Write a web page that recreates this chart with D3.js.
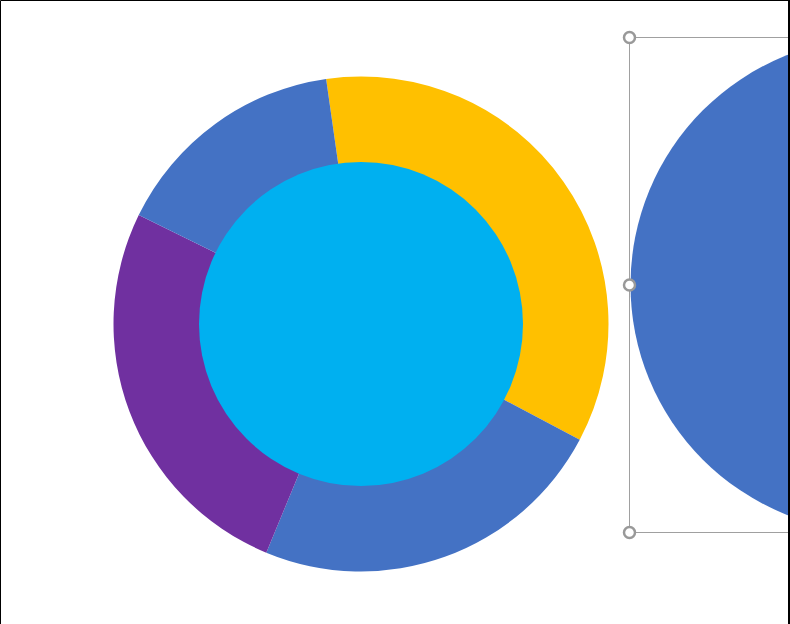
<!DOCTYPE html>
<html>
<head>
<meta charset="utf-8">
<script src="https://cdn.jsdelivr.net/npm/d3@7"></script>
<style>
html,body{margin:0;padding:0;background:#fff;overflow:hidden;}
svg{display:block;}
</style>
</head>
<body>
<svg id="chart" width="790" height="624"></svg>
<script>
const categories = ["A", "B", "C", "D"];
const values = [35, 23.5, 26, 15.5];
const colors = ["#FFC000", "#4472C4", "#7030A0", "#4472C4"];
const startDeg = -8.1;

const svg = d3.select("#chart");
const W = 790, H = 624;

svg.append("rect").attr("x", 0).attr("y", 0).attr("width", W).attr("height", H).attr("fill", "#fff");

const cx = 361, cy = 324, rOuter = 247.5, rInner = 162;
const start = startDeg * Math.PI / 180;
const pie = d3.pie().sort(null).value(d => d).startAngle(start).endAngle(start + 2 * Math.PI);
const arc = d3.arc().innerRadius(rInner - 1).outerRadius(rOuter);

const g = svg.append("g").attr("transform", `translate(${cx},${cy})`);
g.selectAll("path.slice").data(pie(values)).join("path")
  .attr("class", "slice")
  .attr("d", arc)
  .attr("fill", (d, i) => colors[i]);

g.append("circle").attr("r", rInner).attr("fill", "#00B0F0");

// partial blue circle on the right (selected shape)
svg.append("circle").attr("cx", 877.5).attr("cy", 285).attr("r", 247).attr("fill", "#4472C4");

// selection box
const selX = 629.5, selTop = 37.5, selBot = 532.5;
svg.append("path")
  .attr("d", `M${W},${selTop} H${selX} V${selBot} H${W}`)
  .attr("fill", "none").attr("stroke", "#A0A0A0").attr("stroke-width", 1);
[selTop, (selTop + selBot) / 2, selBot].forEach(y => {
  svg.append("circle").attr("cx", selX).attr("cy", y).attr("r", 5.5)
    .attr("fill", "#fff").attr("stroke", "#999").attr("stroke-width", 2.5);
});

// border (top, left, right)
svg.append("path").attr("d", `M0.5,${H} V0.5 H789 V${H}`)
  .attr("fill", "none").attr("stroke", "#000").attr("stroke-width", 1);
svg.append("line").attr("x1", 789).attr("x2", 789).attr("y1", 0).attr("y2", H)
  .attr("stroke", "#000").attr("stroke-width", 2);
</script>
</body>
</html>
